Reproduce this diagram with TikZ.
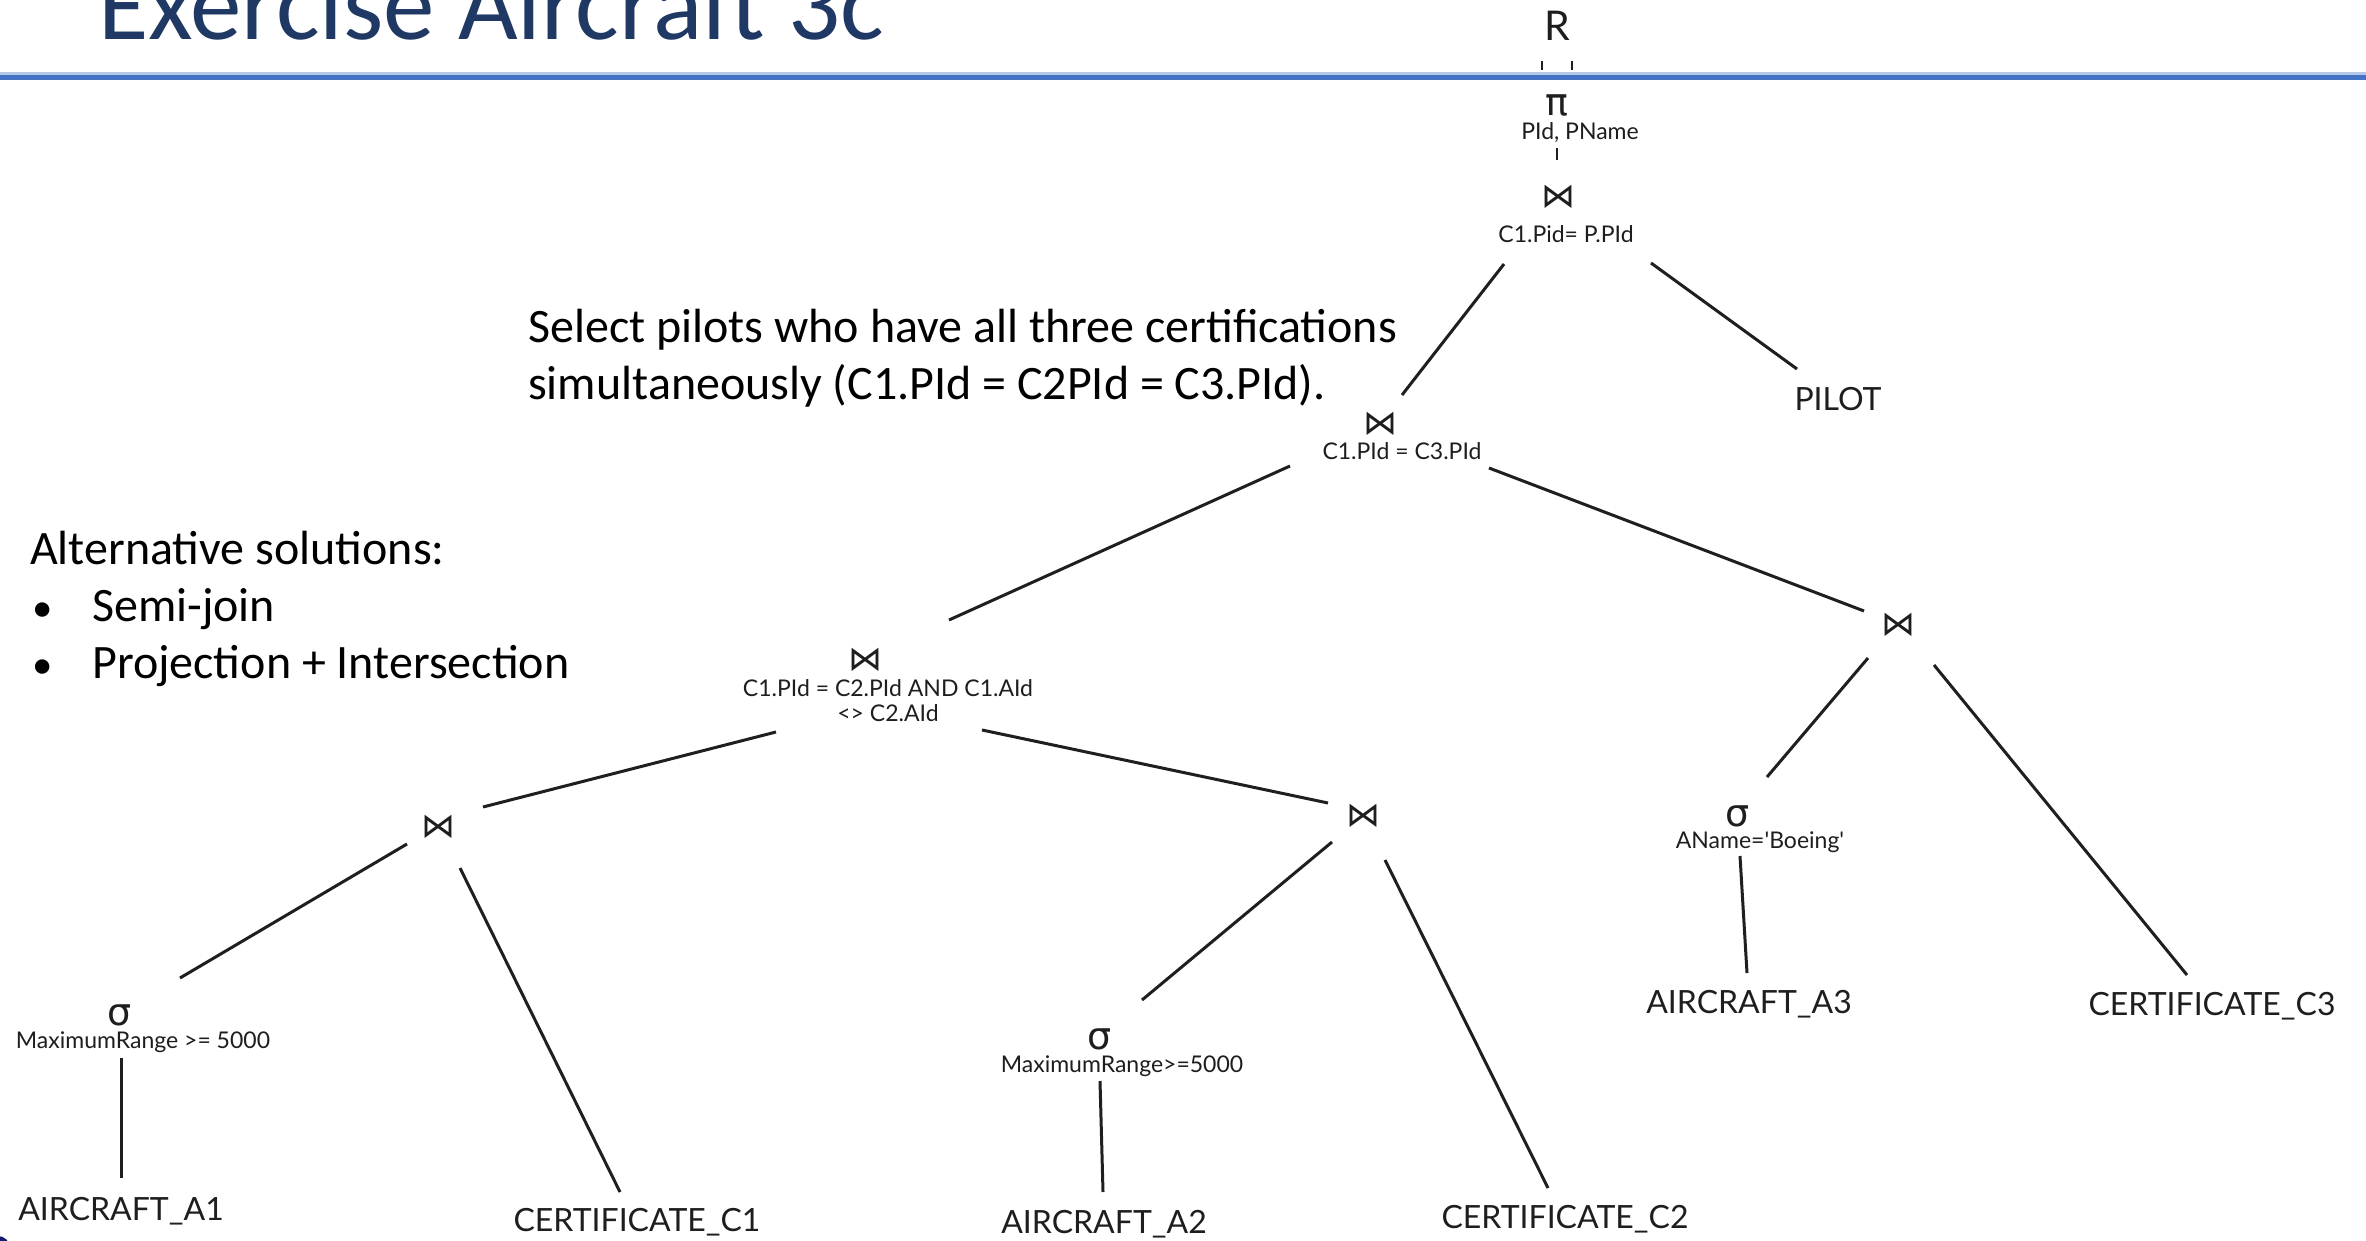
\documentclass[tikz,border=0pt]{standalone}
\usepackage{fontspec}
\setmainfont{Carlito}
\newfontfamily\treefont{Lato}
\newfontfamily\symfont{DejaVu Sans}
\definecolor{titleblue}{RGB}{31,56,100}
\definecolor{ruleblue}{RGB}{68,114,196}
\definecolor{rulelight}{RGB}{180,199,231}
\definecolor{treegray}{RGB}{30,30,30}
\definecolor{blobblue}{RGB}{18,28,110}
\begin{document}
\begin{tikzpicture}[x=1pt,y=-1pt,
  conn/.style={line width=3pt, draw=black!88},
  biglabel/.style={font=\treefont\fontsize{32}{38}\selectfont, text=treegray, inner sep=0pt},
  smalllabel/.style={font=\treefont\fontsize{23}{25}\selectfont, text=treegray, inner sep=0pt, align=center},
  greekop/.style={font=\symfont\fontsize{38}{42}\selectfont, text=treegray, inner sep=0pt},
  joinop/.style={font=\symfont\fontsize{34}{38}\selectfont, text=treegray, inner sep=0pt},
  bodytext/.style={font=\fontsize{48}{57}\selectfont, text=black, inner sep=0pt, align=left}
]
\clip (0,0) rectangle (2366,1241);
\fill[white] (0,0) rectangle (2366,1241);

% title and rule
\node[anchor=base west, inner sep=0pt, text=titleblue, font=\fontsize{103}{110}\selectfont] (title) at (98,40) {Exercise Aircraft 3c};
\fill[rulelight] (0,72.5) rectangle (2366,75);
\fill[ruleblue] (0,75) rectangle (2366,80.5);
\fill[blobblue] (-2,1248) circle (12);

% explanatory texts
\node[bodytext, anchor=base west] (note) at (528,399) {Select pilots who have all three certifications\\simultaneously (C1.PId = C2PId = C3.PId).};
\node[bodytext, anchor=base west] (alt) at (30,678) {Alternative solutions:\\\makebox[62pt][l]{\hspace{2pt}\scalebox{0.85}{•}}Semi-join\\\makebox[62pt][l]{\hspace{2pt}\scalebox{0.85}{•}}Projection + Intersection};

% tree nodes
\node[biglabel, font=\treefont\fontsize{41}{45}\selectfont] (R) at (1557,26) {R};
\node[greekop] (pi) at (1557,105) {π};
\node[smalllabel] (pil) at (1580,133) {PId, PName};
\node[joinop] (j1) at (1558,197) {⋈};
\node[smalllabel] (j1l) at (1566,234) {C1.Pid= P.PId};
\node[biglabel] (pilot) at (1838,399) {PILOT};

\node[joinop] (j2) at (1380,424) {⋈};
\node[smalllabel] (j2l) at (1402,451) {C1.PId = C3.PId};

\node[joinop] (j3) at (865,660) {⋈};
\node[smalllabel] (j3l) at (888,701) {C1.PId = C2.PId AND C1.AId\\<> C2.AId};

\node[joinop] (j4) at (1898,625) {⋈};
\node[greekop] (s3) at (1738,816) {σ};
\node[smalllabel] (s3l) at (1760,842) {AName='Boeing'};
\node[biglabel] (a3) at (1749,1004) {AIRCRAFT\_A3};
\node[biglabel] (c3) at (2212,1006) {CERTIFICATE\_C3};

\node[joinop] (j5) at (438,827) {⋈};
\node[greekop] (s1) at (120,1015) {σ};
\node[smalllabel] (s1l) at (143,1042) {MaximumRange >= 5000};
\node[biglabel] (a1) at (121,1211) {AIRCRAFT\_A1};
\node[biglabel] (c1) at (637,1222) {CERTIFICATE\_C1};

\node[joinop] (j6) at (1363,816) {⋈};
\node[greekop] (s2) at (1100,1039) {σ};
\node[smalllabel] (s2l) at (1122,1066) {MaximumRange>=5000};
\node[biglabel] (a2) at (1104,1224) {AIRCRAFT\_A2};
\node[biglabel] (c2) at (1565,1219) {CERTIFICATE\_C2};

% connector end points
\coordinate (Rt1a) at (1542,61); \coordinate (Rt1b) at (1542,70);
\coordinate (Rt2a) at (1572,61); \coordinate (Rt2b) at (1572,70);
\coordinate (pia) at (1557,148); \coordinate (pib) at (1557,160);
\coordinate (e1a) at (1504,264); \coordinate (e1b) at (1402,395);
\coordinate (e2a) at (1651,263); \coordinate (e2b) at (1797,369);
\coordinate (e3a) at (1290,466); \coordinate (e3b) at (949,620);
\coordinate (e4a) at (1489,468); \coordinate (e4b) at (1864,611);
\coordinate (e5a) at (1868,658); \coordinate (e5b) at (1767,777);
\coordinate (e6a) at (1934,665); \coordinate (e6b) at (2187,975);
\coordinate (e7a) at (1740,856); \coordinate (e7b) at (1747,973);
\coordinate (e8a) at (776,732); \coordinate (e8b) at (483,807);
\coordinate (e9a) at (982,730); \coordinate (e9b) at (1328,803);
\coordinate (e10a) at (407,844); \coordinate (e10b) at (180,978);
\coordinate (e11a) at (460,868); \coordinate (e11b) at (620,1192);
\coordinate (e12a) at (121,1058); \coordinate (e12b) at (121,1178);
\coordinate (e13a) at (1332,842); \coordinate (e13b) at (1142,1000);
\coordinate (e14a) at (1385,860); \coordinate (e14b) at (1548,1188);
\coordinate (e15a) at (1100,1081); \coordinate (e15b) at (1103,1192);

\draw[conn, line width=2.5pt] (Rt1a) -- (Rt1b);
\draw[conn, line width=2.5pt] (Rt2a) -- (Rt2b);
\draw[conn, line width=2.5pt] (pia) -- (pib);
\foreach \e in {e1,e2,e3,e4,e5,e6,e7,e8,e9,e10,e11,e12,e13,e14,e15}
  \draw[conn] (\e a) -- (\e b);
\end{tikzpicture}
\end{document}
